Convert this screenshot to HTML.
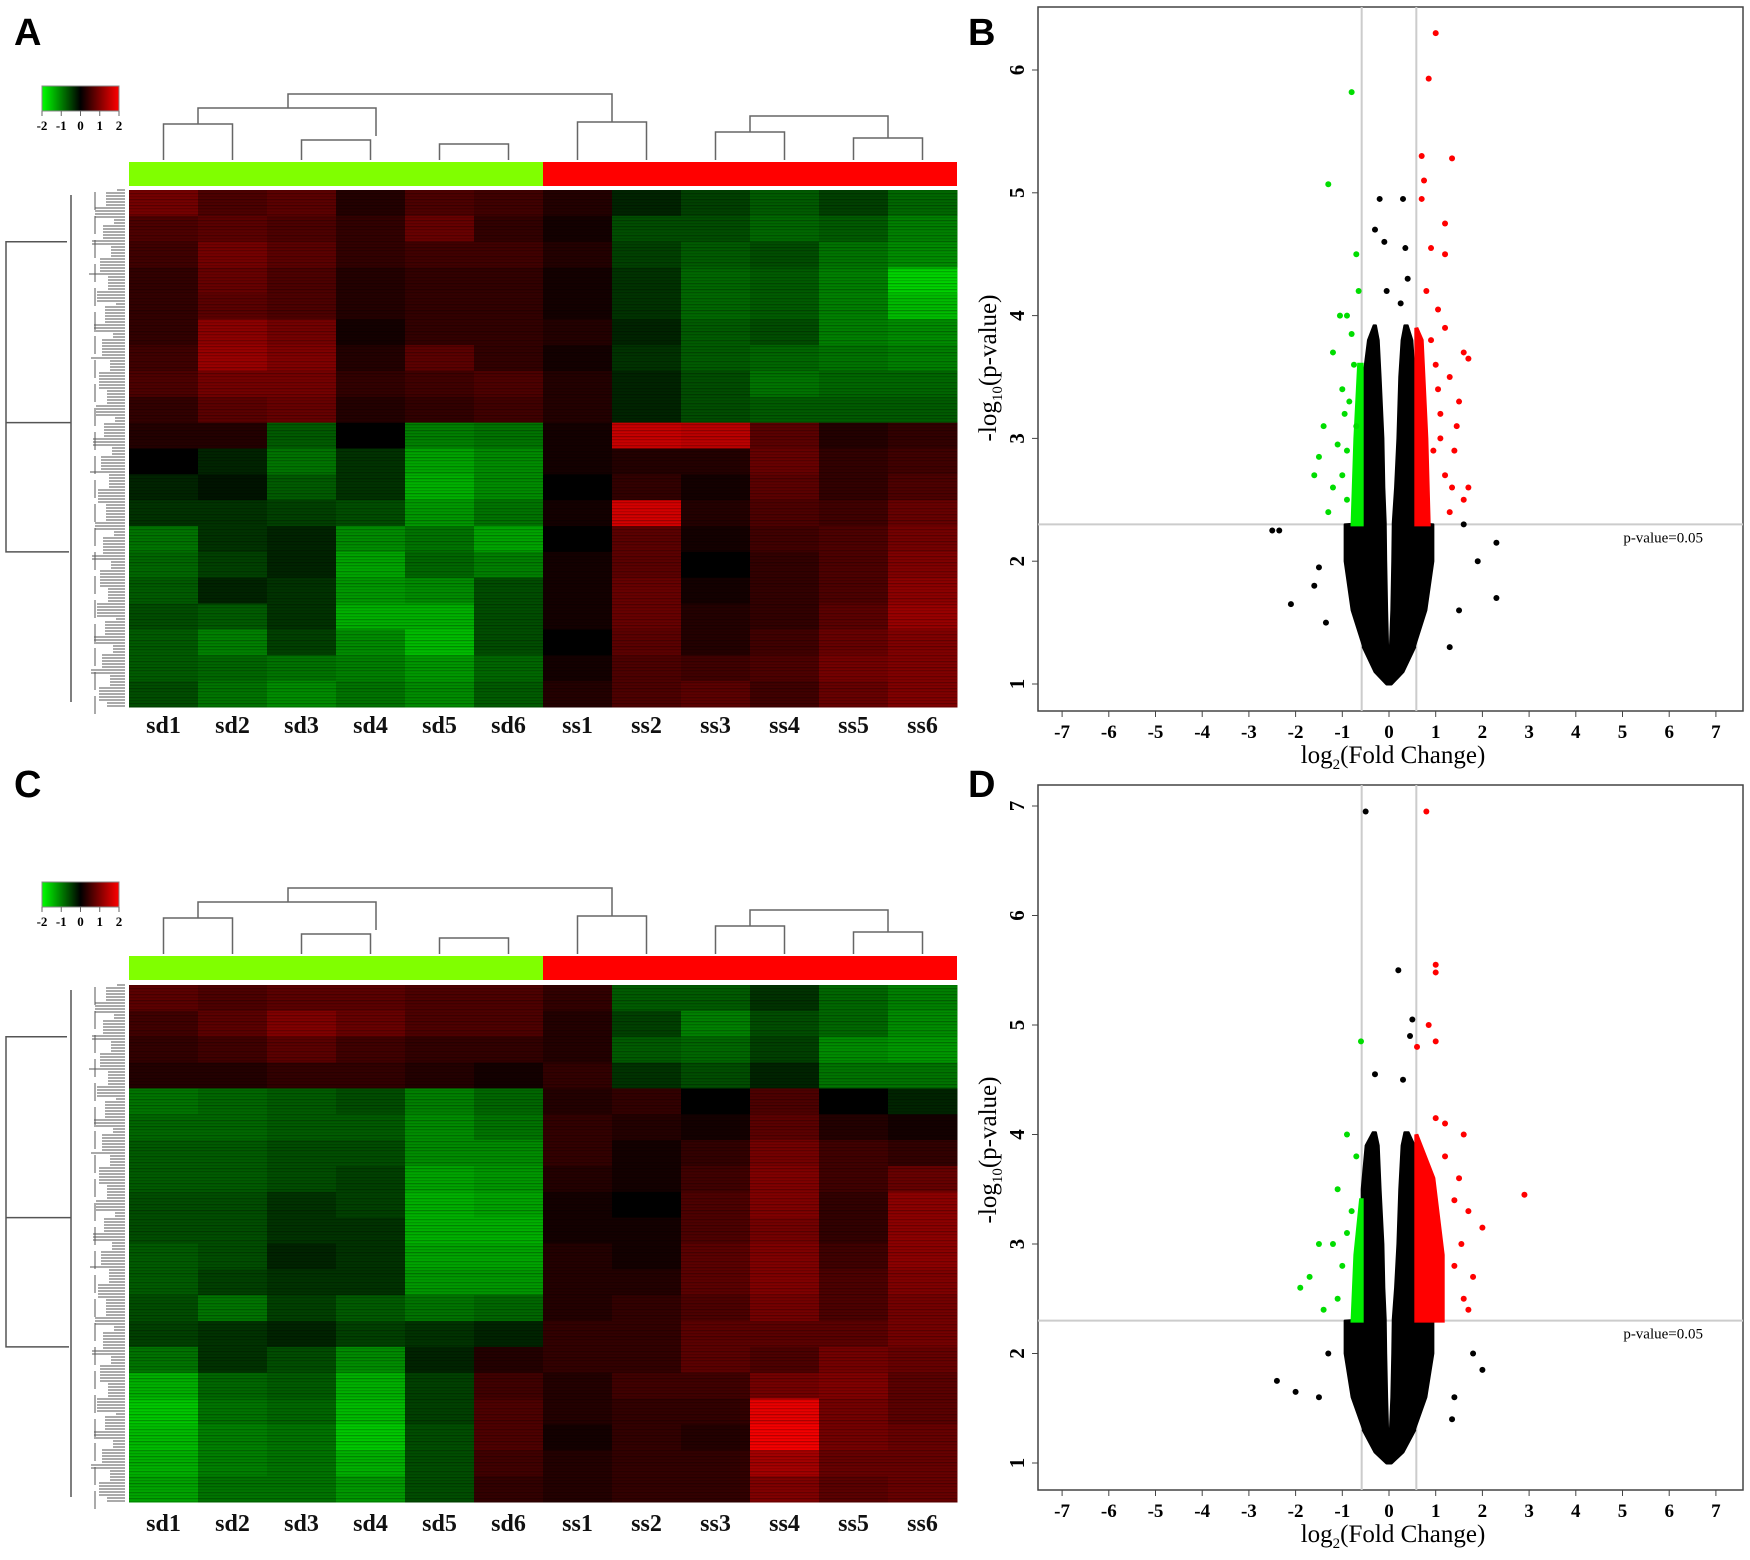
<!DOCTYPE html>
<html><head><meta charset="utf-8"><style>
html,body{margin:0;padding:0;background:#fff;}
svg{display:block;font-family:"Liberation Serif",serif;}
</style></head><body>
<svg id="fig" width="1750" height="1560" viewBox="0 0 1750 1560" xmlns="http://www.w3.org/2000/svg"></svg>
<script>
const samples=["sd1","sd2","sd3","sd4","sd5","sd6","ss1","ss2","ss3","ss4","ss5","ss6"];
const heatA=[
[0.8,0.5,0.6,0.2,0.5,0.4,0.2,-0.2,-0.4,-0.6,-0.4,-0.7],
[0.5,0.6,0.5,0.3,0.7,0.3,0.1,-0.5,-0.5,-0.7,-0.6,-0.9],
[0.4,0.8,0.6,0.3,0.4,0.4,0.2,-0.4,-0.6,-0.5,-0.8,-1.0],
[0.3,0.7,0.5,0.2,0.3,0.3,0.1,-0.3,-0.7,-0.6,-0.9,-1.6],
[0.3,0.6,0.5,0.2,0.3,0.3,0.1,-0.3,-0.7,-0.6,-0.9,-1.4],
[0.3,1.0,0.8,0.1,0.3,0.3,0.2,-0.2,-0.6,-0.5,-0.9,-1.0],
[0.4,1.1,0.9,0.2,0.6,0.3,0.1,-0.3,-0.6,-0.7,-0.8,-0.9],
[0.5,0.8,0.8,0.3,0.4,0.5,0.2,-0.2,-0.5,-0.8,-0.7,-0.7],
[0.3,0.6,0.7,0.2,0.3,0.4,0.2,-0.2,-0.5,-0.6,-0.6,-0.6],
[0.2,0.2,-0.6,0.0,-0.9,-0.8,0.1,1.5,1.4,0.6,0.2,0.3],
[0.0,-0.2,-0.8,-0.3,-1.2,-1.0,0.1,0.2,0.2,0.7,0.3,0.4],
[-0.2,-0.1,-0.6,-0.3,-1.3,-1.0,0.0,0.3,0.1,0.6,0.3,0.5],
[-0.3,-0.3,-0.4,-0.5,-1.1,-0.8,0.1,1.6,0.2,0.5,0.4,0.7],
[-0.8,-0.3,-0.2,-1.0,-0.8,-1.2,0.0,0.6,0.1,0.4,0.5,0.8],
[-0.7,-0.4,-0.2,-1.2,-0.7,-0.9,0.1,0.6,0.0,0.3,0.5,0.9],
[-0.6,-0.2,-0.3,-1.1,-1.0,-0.5,0.1,0.7,0.1,0.3,0.5,1.0],
[-0.5,-0.6,-0.3,-1.3,-1.3,-0.5,0.1,0.7,0.2,0.3,0.6,1.1],
[-0.6,-0.9,-0.4,-1.0,-1.4,-0.5,0.0,0.6,0.2,0.4,0.7,0.9],
[-0.6,-0.7,-0.8,-0.9,-1.1,-0.7,0.1,0.5,0.4,0.5,0.8,0.9],
[-0.5,-0.8,-1.0,-0.8,-1.0,-0.6,0.2,0.5,0.6,0.4,0.7,0.9]];
const heatC=[
[0.6,0.5,0.6,0.6,0.5,0.5,0.3,-0.6,-0.6,-0.3,-0.7,-0.9],
[0.4,0.6,0.9,0.7,0.5,0.5,0.2,-0.4,-0.9,-0.5,-0.7,-1.0],
[0.3,0.4,0.6,0.4,0.3,0.3,0.2,-0.6,-0.7,-0.4,-1.0,-1.1],
[0.2,0.2,0.3,0.3,0.2,0.1,0.3,-0.3,-0.5,-0.2,-0.8,-0.8],
[-0.8,-0.7,-0.6,-0.5,-0.9,-0.7,0.2,0.3,0.0,0.5,0.0,-0.2],
[-0.7,-0.7,-0.6,-0.6,-1.0,-0.8,0.3,0.2,0.1,0.6,0.2,0.1],
[-0.6,-0.6,-0.5,-0.5,-1.0,-1.0,0.3,0.1,0.3,0.8,0.4,0.3],
[-0.6,-0.6,-0.5,-0.4,-1.2,-1.1,0.2,0.1,0.4,0.9,0.4,0.7],
[-0.5,-0.5,-0.3,-0.4,-1.3,-1.2,0.1,0.0,0.5,0.9,0.3,1.0],
[-0.5,-0.5,-0.3,-0.3,-1.3,-1.3,0.1,0.1,0.5,0.8,0.3,1.0],
[-0.6,-0.5,-0.2,-0.3,-1.2,-1.2,0.2,0.1,0.6,0.9,0.4,1.0],
[-0.6,-0.4,-0.3,-0.3,-1.1,-1.1,0.2,0.2,0.6,0.9,0.5,0.9],
[-0.5,-0.8,-0.4,-0.6,-0.8,-0.7,0.2,0.3,0.5,0.8,0.5,0.8],
[-0.4,-0.3,-0.2,-0.4,-0.3,-0.2,0.3,0.3,0.6,0.6,0.6,0.8],
[-0.8,-0.3,-0.5,-1.0,-0.2,0.2,0.3,0.3,0.6,0.5,0.8,0.7],
[-1.3,-0.7,-0.6,-1.3,-0.4,0.4,0.2,0.4,0.4,0.8,0.9,0.6],
[-1.5,-0.8,-0.7,-1.4,-0.4,0.5,0.2,0.3,0.3,1.8,0.8,0.6],
[-1.4,-0.9,-0.8,-1.5,-0.5,0.5,0.1,0.3,0.2,1.9,0.8,0.7],
[-1.3,-0.9,-0.8,-1.3,-0.5,0.4,0.2,0.3,0.3,1.2,0.7,0.7],
[-1.2,-0.8,-0.8,-1.1,-0.5,0.3,0.2,0.3,0.3,0.9,0.6,0.7]];
const xTicks=[-7,-6,-5,-4,-3,-2,-1,0,1,2,3,4,5,6,7];
const yTicksB=[1,2,3,4,5,6];
const yTicksD=[1,2,3,4,5,6,7];
const coreY=[1.0,1.1,1.3,1.6,2.0,2.3,2.31,2.6,3.0,3.5,3.8,3.92];
const coreLO_B=[-0.05,-0.3,-0.55,-0.8,-0.95,-0.95,-0.585,-0.585,-0.585,-0.55,-0.45,-0.33];
const coreLI_B=[0,-0.01,-0.02,-0.04,-0.06,-0.07,-0.07,-0.1,-0.12,-0.18,-0.22,-0.28];
const coreRI_B=[0,0.01,0.02,0.05,0.07,0.08,0.08,0.13,0.18,0.22,0.27,0.33];
const coreRO_B=[0.05,0.3,0.55,0.8,0.95,0.95,0.585,0.585,0.585,0.55,0.5,0.4];
const coreY_D=[1.0,1.1,1.3,1.6,2.0,2.3,2.31,2.6,3.0,3.5,3.9,4.02];
const coreLO_D=[-0.05,-0.3,-0.55,-0.8,-0.95,-0.95,-0.585,-0.585,-0.585,-0.585,-0.5,-0.35];
const coreLI_D=[0,-0.01,-0.02,-0.04,-0.06,-0.07,-0.07,-0.1,-0.12,-0.18,-0.22,-0.28];
const coreRI_D=[0,0.01,0.02,0.05,0.07,0.08,0.08,0.13,0.18,0.22,0.27,0.33];
const coreRO_D=[0.05,0.3,0.55,0.8,0.95,0.95,0.585,0.585,0.585,0.585,0.55,0.42];
const bandGreenB=[[-0.585,2.3],[-0.78,2.3],[-0.72,3.0],[-0.64,3.6],[-0.585,3.6]];
const bandRedB=[[0.585,2.3],[0.85,2.3],[0.8,3.0],[0.7,3.8],[0.585,3.9]];
const bandGreenD=[[-0.585,2.3],[-0.78,2.3],[-0.72,2.9],[-0.6,3.4],[-0.585,3.4]];
const bandRedD=[[0.585,2.3],[1.15,2.3],[1.15,2.9],[0.95,3.6],[0.585,4.0]];
const greenB=[[-0.8,5.82],[-1.3,5.07],[-0.7,4.5],[-0.65,4.2],[-0.9,4.0],[-1.05,4.0],[-0.8,3.85],[-1.2,3.7],[-0.75,3.6],[-1.0,3.4],[-1.4,3.1],[-1.5,2.85],[-1.1,2.95],[-1.6,2.7],[-1.2,2.6],[-0.9,2.5],[-1.3,2.4],[-0.95,3.2],[-0.7,3.1],[-1.0,2.7],[-0.85,3.3],[-0.9,2.9]];
const redB=[[1.0,6.3],[0.85,5.93],[1.35,5.28],[0.7,5.3],[0.75,5.1],[0.7,4.95],[1.2,4.75],[0.9,4.55],[1.2,4.5],[1.05,4.05],[1.6,3.7],[1.7,3.65],[1.3,3.5],[1.5,3.3],[1.1,3.0],[1.4,2.9],[1.7,2.6],[1.6,2.5],[1.2,2.7],[0.9,3.8],[1.0,3.6],[0.8,4.2],[1.1,3.2],[1.3,2.4],[0.95,2.9],[1.45,3.1],[1.2,3.9],[1.05,3.4],[1.35,2.6]];
const blackB=[[-0.2,4.95],[0.3,4.95],[-0.1,4.6],[0.35,4.55],[-2.5,2.25],[-2.35,2.25],[-2.1,1.65],[2.3,2.15],[2.3,1.7],[-1.6,1.8],[1.9,2.0],[-1.5,1.95],[1.5,1.6],[-0.3,4.7],[0.4,4.3],[-1.35,1.5],[1.3,1.3],[1.6,2.3],[0.25,4.1],[-0.05,4.2]];
const greenD=[[-0.6,4.85],[-0.9,4.0],[-0.7,3.8],[-1.1,3.5],[-1.5,3.0],[-1.7,2.7],[-1.9,2.6],[-1.2,3.0],[-1.4,2.4],[-0.8,3.3],[-1.0,2.8],[-0.9,3.1],[-1.1,2.5]];
const redD=[[0.8,6.95],[1.0,5.55],[1.0,5.48],[0.85,5.0],[1.0,4.85],[0.6,4.8],[1.6,4.0],[1.0,4.15],[1.2,4.1],[2.9,3.45],[2.0,3.15],[1.5,3.6],[1.7,3.3],[1.4,2.8],[1.6,2.5],[1.8,2.7],[1.4,3.4],[1.2,3.8],[1.55,3.0],[1.7,2.4]];
const blackD=[[-0.5,6.95],[0.2,5.5],[0.5,5.05],[-0.3,4.55],[0.3,4.5],[-2.4,1.75],[-2.0,1.65],[2.0,1.85],[1.8,2.0],[1.35,1.4],[-1.5,1.6],[-1.3,2.0],[1.4,1.6],[0.45,4.9]];

const NS="http://www.w3.org/2000/svg";
const svg=document.getElementById('fig');
function mk(tag,attrs,parent,text){const e=document.createElementNS(NS,tag);for(const k in attrs)e.setAttribute(k,attrs[k]);if(text!=null)e.textContent=text;(parent||svg).appendChild(e);return e;}
function col(v){v=Math.max(-2,Math.min(2,v));const t=Math.abs(v)/2;const c=Math.round(255*Math.pow(t,0.85));return v<0?`rgb(0,${c},0)`:`rgb(${c},0,0)`;}

function heatmap(id,data,x0,y0,w,h,barY,labY,legY){
  const g=mk('g',{});
  
  
  const cw=w/samples.length,rh=h/data.length;
  data.forEach((row,r)=>row.forEach((v,c)=>{
    const rc=mk('rect',{x:x0+c*cw,y:y0+r*rh,width:cw+0.5,height:rh+0.5,fill:col(v)},g);
    
    
  }));
  for(let i=0;i<h;i+=3){const a=0.12+0.18*((i*13)%7)/7;mk('rect',{x:x0,y:y0+i,width:w,height:1.3,fill:`rgba(0,0,0,${a.toFixed(2)})`},g);}
  const b1=mk('rect',{x:x0,y:barY,width:w/2,height:24,fill:'#80ff00'},g);
  
  
  const b2=mk('rect',{x:x0+w/2,y:barY,width:w/2,height:24,fill:'#ff0000'},g);
  
  
  samples.forEach((s,i)=>{
    const t=mk('text',{x:x0+(i+0.5)*cw,y:labY,'text-anchor':'middle','font-size':24,'font-weight':'bold',fill:'#111'},g,s);
    
    
  });
  const dg=mk('g',{stroke:'#666','stroke-width':1.5,fill:'none'},g);
  
  
  const cx=i=>x0+(i+0.5)*cw;
  const top=barY-10;
  const segs=[[0,1,top-28],[2,3,top-12],[4,5,top-8],[6,7,top-30],[8,9,top-20],[10,11,top-14]];
  segs.forEach(s=>mk('path',{d:`M${cx(s[0])},${barY-2}V${s[2]}H${cx(s[1])}V${barY-2}`},dg));
  mk('path',{d:`M${(cx(0)+cx(1))/2},${top-28}V${top-44}H${(cx(2)+cx(3))/2+40}V${top-16}`},dg);
  mk('path',{d:`M${(cx(0)+cx(1))/2+90},${top-44}V${top-58}H${(cx(6)+cx(7))/2}V${top-30}`},dg);
  mk('path',{d:`M${(cx(8)+cx(9))/2},${top-20}V${top-36}H${(cx(10)+cx(11))/2}V${top-14}`},dg);
  const rg=mk('g',{stroke:'#555','stroke-width':1,fill:'none'},g);
  
  
  for(let i=0;i<h;i+=3){const len=8+((i*7)%19)+((i*3)%11);mk('path',{d:`M${x0-4},${y0+i}H${x0-4-len}`},rg);}
  for(let i=0;i<h;i+=24){const l=30+((i*5)%12);mk('path',{d:`M${x0-4-l},${y0+i+2}V${y0+i+20}`},rg);}
  mk('path',{d:`M${x0-58},${y0+5}V${y0+h-5}`,'stroke-width':1.5},rg);
  mk('path',{d:`M${x0-58},${y0+h*0.45}H${6}V${y0+h*0.1}H${x0-62}M6,${y0+h*0.45}V${y0+h*0.7}H${x0-60}`,'stroke-width':1.5},rg);
  const lg=mk('g',{},g);
  
  
  const gid='lg'+id;
  const d=mk('defs',{},lg);const gr=mk('linearGradient',{id:gid},d);
  mk('stop',{offset:'0','stop-color':'#00ff00'},gr);mk('stop',{offset:'0.5','stop-color':'#000'},gr);mk('stop',{offset:'1','stop-color':'#ff0000'},gr);
  mk('rect',{x:42,y:legY,width:77,height:25,fill:`url(#${gid})`,stroke:'#888'},lg);
  ['-2','-1','0','1','2'].forEach((t,i)=>{
    mk('line',{x1:42+i*19.25,x2:42+i*19.25,y1:legY+25,y2:legY+30,stroke:'#666'},lg);
    mk('text',{x:42+i*19.25,y:legY+44,'text-anchor':'middle','font-size':13,'font-weight':'bold'},lg,t);
  });
}

function volcano(id,px0,py0,px1,py1,yUnit,y1pix,yTicks,coreYs,LO,LI,RI,RO,bandG,bandR,greens,reds,blacks,labelY){
  const g=mk('g',{});
  
  
  const X=v=>1389+v*46.7;
  const Y=v=>y1pix-(v-1)*yUnit;
  const fr=mk('rect',{x:px0,y:py0,width:px1-px0,height:py1-py0,fill:'none',stroke:'#444','stroke-width':1.5},g);
  
  
  [-0.585,0.585].forEach(v=>mk('line',{x1:X(v),x2:X(v),y1:py0,y2:py1,stroke:'#ccc','stroke-width':2},g));
  mk('line',{x1:px0,x2:px1,y1:Y(2.3),y2:Y(2.3),stroke:'#ccc','stroke-width':2},g);
  const pl=mk('text',{x:px1-40,y:Y(2.3)+18,'text-anchor':'end','font-size':15},g,'p-value=0.05');
  
  
  const band=(A,B,from,to)=>{const idx=[];for(let i=from;i<=to;i++)idx.push(i);
    return idx.map(i=>`${X(A[i])},${Y(coreYs[i])}`).concat(idx.slice().reverse().map(i=>`${X(B[i])},${Y(coreYs[i])}`)).join(' ');};
  const n=coreYs.length-1;
  const cb=mk('polygon',{points:band(LO,RO,0,2),fill:'#000',stroke:'#000','stroke-width':3,'stroke-linejoin':'round'},g);
  
  
  const c1=mk('polygon',{points:band(LO,LI,2,n),fill:'#000',stroke:'#000','stroke-width':2,'stroke-linejoin':'round'},g);
  
  
  const c2=mk('polygon',{points:band(RI,RO,2,n),fill:'#000',stroke:'#000','stroke-width':2,'stroke-linejoin':'round'},g);
  
  
  const bg=mk('polygon',{points:bandG.map(p=>`${X(p[0])},${Y(p[1])}`).join(' '),fill:'#00ee00',stroke:'#00ee00','stroke-width':4},g);
  
  
  const br=mk('polygon',{points:bandR.map(p=>`${X(p[0])},${Y(p[1])}`).join(' '),fill:'#ff0000',stroke:'#ff0000','stroke-width':4},g);
  
  
  const pts=(arr,c,nm)=>arr.forEach(p=>{const e=mk('circle',{cx:X(p[0]),cy:Y(p[1]),r:3,fill:c},g);
    
    });
  pts(blacks,'#000','point-ns');pts(greens,'#00dd00','point-down');pts(reds,'#ff0000','point-up');
  xTicks.forEach(t=>{mk('line',{x1:X(t),x2:X(t),y1:py1,y2:py1+6,stroke:'#444'},g);
    const tx=mk('text',{x:X(t),y:py1+27,'text-anchor':'middle','font-size':19,'font-weight':'bold'},g,t);
    
    });
  yTicks.forEach(t=>{mk('line',{x1:px0-6,x2:px0,y1:Y(t),y2:Y(t),stroke:'#444'},g);
    const ty=mk('text',{x:px0-14,y:Y(t),'text-anchor':'middle','font-size':21,'font-weight':'bold',transform:`rotate(-90 ${px0-14} ${Y(t)})`},g,t);
    
    });
  const xl=mk('text',{x:1393,y:py1+52,'text-anchor':'middle','font-size':25},g);
  
  
  xl.innerHTML='log<tspan font-size="15" dy="6">2</tspan><tspan dy="-6">(Fold Change)</tspan>';
  const ycx=px0-42,ycy=labelY;
  const yl=mk('text',{x:ycx,y:ycy,'text-anchor':'middle','font-size':25,transform:`rotate(-90 ${ycx} ${ycy})`},g);
  
  
  yl.innerHTML='-log<tspan font-size="15" dy="6">10</tspan><tspan dy="-6">(p-value)</tspan>';
}

heatmap('heatmap-a',heatA,129,190,828,517,162,733,86);
heatmap('heatmap-c',heatC,129,985,828,517,956,1531,882);
volcano('volcano-b',1038,7,1743,711,122.8,684,yTicksB,coreY,coreLO_B,coreLI_B,coreRI_B,coreRO_B,bandGreenB,bandRedB,greenB,redB,blackB,368);
volcano('volcano-d',1038,785,1743,1490,109.5,1463,yTicksD,coreY_D,coreLO_D,coreLI_D,coreRI_D,coreRO_D,bandGreenD,bandRedD,greenD,redD,blackD,1150);
[['A',14,45],['B',968,45],['C',14,797],['D',968,797]].forEach(p=>{
  const t=mk('text',{x:p[1],y:p[2],'font-size':38,'font-weight':'bold','font-family':'Liberation Sans, sans-serif'},svg,p[0]);
  
  
});
</script>
</body></html>
